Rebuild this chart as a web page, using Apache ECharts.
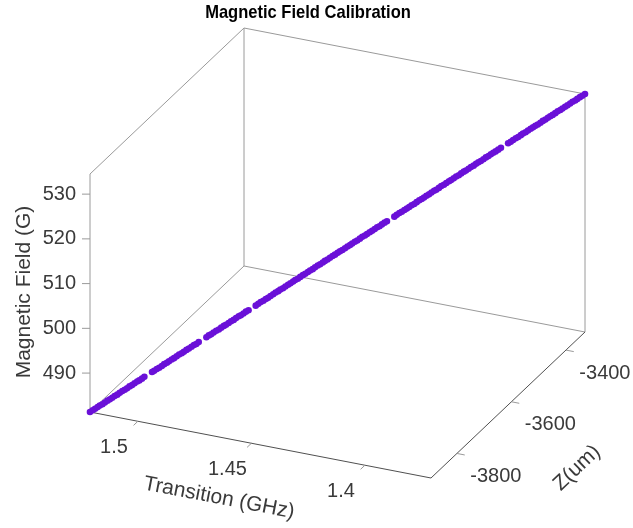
<!DOCTYPE html>
<html><head><meta charset="utf-8">
<script src="https://cdn.jsdelivr.net/npm/echarts@6/dist/echarts.min.js"></script>
<style>html,body{margin:0;padding:0;background:#fff}#c{width:633px;height:528px}</style>
</head><body><div id="c"></div>
<script>
// ---- data : sweep 1 ----
const transition = [1.5211,1.5196,1.5181,1.5166,1.5151,1.5136,1.5121,1.5106,1.5091,1.5076,1.5061,1.5046,
  1.5016,1.5001,1.4986,1.4971,1.4956,1.4941,1.4926,1.4911,1.4896,1.4881,
  1.4851,1.4836,1.4820,1.4805,1.4790,1.4775,1.4760,1.4745,1.4730,
  1.4700,1.4685,1.4670,1.4655,1.4640,1.4625,1.4610,1.4595,1.4580,1.4565,1.4550,1.4535,1.4520,1.4505,1.4490,1.4475,1.4460,1.4445,1.4430,1.4415,1.4400,1.4385,1.4370,1.4355,1.4340,1.4325,1.4310,
  1.4280,1.4265,1.4250,1.4235,1.4220,1.4205,1.4190,1.4175,1.4160,1.4145,1.4130,1.4115,1.4100,1.4085,1.4070,1.4055,1.4040,1.4025,1.4010,1.3995,1.3980,1.3964,
  1.3934,1.3919,1.3904,1.3889,1.3874,1.3859,1.3844,1.3829,1.3814,1.3799,1.3784,1.3769,1.3754,1.3739,1.3724,1.3709];
const zPos = [-3895,-3889,-3884,-3878,-3872,-3867,-3861,-3855,-3850,-3844,-3839,-3833,
  -3822,-3816,-3810,-3805,-3799,-3793,-3788,-3782,-3776,-3771,
  -3759,-3754,-3748,-3742,-3737,-3731,-3725,-3720,-3714,
  -3703,-3697,-3692,-3686,-3680,-3675,-3669,-3663,-3658,-3652,-3646,-3641,-3635,-3629,-3624,-3618,-3612,-3607,-3601,-3596,-3590,-3584,-3579,-3573,-3567,-3562,-3556,
  -3545,-3539,-3533,-3528,-3522,-3516,-3511,-3505,-3500,-3494,-3488,-3483,-3477,-3471,-3466,-3460,-3454,-3449,-3443,-3437,-3432,-3426,
  -3415,-3409,-3403,-3398,-3392,-3387,-3381,-3375,-3370,-3364,-3358,-3353,-3347,-3341,-3336,-3330];
const field = [481.3,481.8,482.4,482.9,483.4,484.0,484.5,485.0,485.6,486.1,486.6,487.2,
  488.2,488.7,489.3,489.8,490.3,490.9,491.4,491.9,492.5,493.0,
  494.1,494.6,495.1,495.7,496.2,496.7,497.3,497.8,498.3,
  499.4,499.9,500.4,501.0,501.5,502.0,502.6,503.1,503.6,504.2,504.7,505.2,505.8,506.3,506.8,507.4,507.9,508.4,509.0,509.5,510.0,510.6,511.1,511.6,512.2,512.7,513.2,
  514.3,514.8,515.3,515.9,516.4,516.9,517.5,518.0,518.5,519.1,519.6,520.1,520.7,521.2,521.7,522.3,522.8,523.3,523.9,524.4,524.9,525.5,
  526.5,527.1,527.6,528.1,528.7,529.2,529.7,530.2,530.8,531.3,531.8,532.4,532.9,533.4,534.0,534.5];

// ---- sweep 2 ----
const transition2 = [1.5203,1.5188,1.5173,1.5158,1.5143,1.5128,1.5113,1.5098,1.5083,1.5068,1.5053,
  1.5023,1.5008,1.4993,1.4978,1.4963,1.4948,1.4933,1.4918,1.4903,1.4888,
  1.4858,1.4843,1.4828,1.4813,1.4798,1.4783,1.4768,1.4753,1.4738,
  1.4708,1.4693,1.4678,1.4663,1.4648,1.4633,1.4618,1.4603,1.4588,1.4573,1.4558,1.4543,1.4528,1.4513,1.4498,1.4483,1.4468,1.4452,1.4437,1.4422,1.4407,1.4392,1.4377,1.4362,1.4347,1.4332,1.4317,
  1.4287,1.4272,1.4257,1.4242,1.4227,1.4212,1.4197,1.4182,1.4167,1.4152,1.4137,1.4122,1.4107,1.4092,1.4077,1.4062,1.4047,1.4032,1.4017,1.4002,1.3987,1.3972,
  1.3942,1.3927,1.3912,1.3897,1.3882,1.3867,1.3852,1.3837,1.3822,1.3807,1.3792,1.3777,1.3762,1.3747,1.3732,1.3717];
const zPos2 = [-3892,-3886,-3881,-3875,-3870,-3864,-3858,-3853,-3847,-3841,-3836,
  -3824,-3819,-3813,-3807,-3802,-3796,-3790,-3785,-3779,-3774,
  -3762,-3757,-3751,-3745,-3740,-3734,-3728,-3723,-3717,
  -3706,-3700,-3694,-3689,-3683,-3678,-3672,-3666,-3661,-3655,-3649,-3644,-3638,-3632,-3627,-3621,-3615,-3610,-3604,-3598,-3593,-3587,-3581,-3576,-3570,-3565,-3559,
  -3548,-3542,-3536,-3531,-3525,-3519,-3514,-3508,-3502,-3497,-3491,-3485,-3480,-3474,-3468,-3463,-3457,-3452,-3446,-3440,-3435,-3429,
  -3418,-3412,-3406,-3401,-3395,-3389,-3384,-3378,-3372,-3367,-3361,-3356,-3350,-3344,-3339,-3333];
const field2 = [481.6,482.1,482.6,483.2,483.7,484.2,484.8,485.3,485.8,486.4,486.9,
  488.0,488.5,489.0,489.5,490.1,490.6,491.1,491.7,492.2,492.7,
  493.8,494.3,494.9,495.4,495.9,496.5,497.0,497.5,498.1,
  499.1,499.7,500.2,500.7,501.3,501.8,502.3,502.8,503.4,503.9,504.4,505.0,505.5,506.0,506.6,507.1,507.6,508.2,508.7,509.2,509.8,510.3,510.8,511.4,511.9,512.4,513.0,
  514.0,514.6,515.1,515.6,516.1,516.7,517.2,517.7,518.3,518.8,519.3,519.9,520.4,520.9,521.5,522.0,522.5,523.1,523.6,524.1,524.7,525.2,
  526.3,526.8,527.3,527.9,528.4,528.9,529.4,530.0,530.5,531.0,531.6,532.1,532.6,533.2,533.7,534.2];

const tRange = [1.3709, 1.5211];   // Transition (GHz) axis limits
const zRange = [-3895, -3330];     // Z (um) axis limits
const bRange = [481.3, 534.5];     // Magnetic field (G) axis limits
const tTicks = [1.5, 1.45, 1.4];
const zTicks = [-3800, -3600, -3400];
const bTicks = [490, 500, 510, 520, 530];

const titleText = 'Magnetic Field Calibration';
const tName = 'Transition (GHz)';
const zName = 'Z(um)';
const bName = 'Magnetic Field (G)';

// ---- layout of the projected box (pixels) ----
const O  = [90, 412];    // corner (T max, Z min, B min)
const ET = [341, 66];    // T max -> T min
const EZ = [154, -146];  // Z min -> Z max
const EB = [0, -238];    // B min -> B max

const lm = (echarts.number && echarts.number.linearMap) ? echarts.number.linearMap
  : (v, d, r) => r[0] + (v - d[0]) / (d[1] - d[0]) * (r[1] - r[0]);

function proj(t, z, b) {
  const a = lm(t, [tRange[1], tRange[0]], [0, 1]);
  const c = lm(z, zRange, [0, 1]);
  const d = lm(b, bRange, [0, 1]);
  return [O[0] + a * ET[0] + c * EZ[0] + d * EB[0],
          O[1] + a * ET[1] + c * EZ[1] + d * EB[1]];
}

const Tmin = tRange[0], Tmax = tRange[1], Zmin = zRange[0], Zmax = zRange[1], Bmin = bRange[0], Bmax = bRange[1];
const FONT = 'Liberation Sans, Arial, Helvetica, sans-serif';
const TXT = '#3a3a3a';

function seg(p, q, color) {
  return { type: 'line', silent: true, shape: { x1: p[0], y1: p[1], x2: q[0], y2: q[1] },
           style: { stroke: color, lineWidth: 1 } };
}
function label(x, y, text, size, align, vAlign, rot, extra) {
  return Object.assign({ type: 'text', x: x, y: y, rotation: rot || 0, silent: true,
    style: { text: text, fill: TXT, fontSize: size, fontFamily: FONT,
             align: align, textAlign: align, verticalAlign: vAlign, textVerticalAlign: vAlign } }, extra || {});
}

const BACK = '#9a9a9a', FRONT = '#505050';
const g = [];
// back box edges
g.push(seg(proj(Tmax, Zmin, Bmin), proj(Tmax, Zmin, Bmax), BACK));
g.push(seg(proj(Tmax, Zmax, Bmin), proj(Tmax, Zmax, Bmax), BACK));
g.push(seg(proj(Tmin, Zmax, Bmin), proj(Tmin, Zmax, Bmax), BACK));
g.push(seg(proj(Tmax, Zmin, Bmax), proj(Tmax, Zmax, Bmax), BACK));
g.push(seg(proj(Tmax, Zmax, Bmax), proj(Tmin, Zmax, Bmax), BACK));
g.push(seg(proj(Tmax, Zmin, Bmin), proj(Tmax, Zmax, Bmin), BACK));
g.push(seg(proj(Tmax, Zmax, Bmin), proj(Tmin, Zmax, Bmin), BACK));
// front axes
g.push(seg(proj(Tmax, Zmin, Bmin), proj(Tmin, Zmin, Bmin), FRONT));
g.push(seg(proj(Tmin, Zmin, Bmin), proj(Tmin, Zmax, Bmin), FRONT));

const lenZ = Math.hypot(EZ[0], EZ[1]), lenT = Math.hypot(ET[0], ET[1]);
// T ticks + labels
tTicks.forEach(t => {
  const p = proj(t, Zmin, Bmin);
  g.push(seg(p, [p[0] - EZ[0] / lenZ * 6, p[1] - EZ[1] / lenZ * 6], BACK));
  g.push(label(p[0] - 24, p[1] + 26, String(t), 20, 'center', 'middle'));
});
// Z ticks + labels
zTicks.forEach(z => {
  const p = proj(Tmin, z, Bmin);
  g.push(seg(p, [p[0] + ET[0] / lenT * 8, p[1] + ET[1] / lenT * 8], BACK));
  g.push(label(p[0] + 39, p[1] + 23, String(z), 20, 'center', 'middle'));
});
// B ticks + labels
bTicks.forEach(b => {
  const p = proj(Tmax, Zmin, b);
  g.push(seg(p, [p[0] - 8, p[1]], BACK));
  g.push(label(p[0] - 14, p[1], String(b), 20, 'right', 'middle'));
});
// axis names
g.push(label(24, 292, bName, 21, 'center', 'middle', Math.PI / 2));
g.push(label(219, 498, tName, 21, 'center', 'middle', -Math.atan2(ET[1], ET[0])));
g.push(label(577, 468, zName, 21, 'center', 'middle', Math.atan2(-EZ[1], EZ[0])));
// title
g.push({ type: 'text', x: 308, y: 13, scaleX: 0.87, silent: true,
  style: { text: titleText, fill: '#000', fontSize: 19, fontWeight: 'bold', fontFamily: FONT,
           align: 'center', textAlign: 'center', verticalAlign: 'middle', textVerticalAlign: 'middle' } });

function renderDot(params, api) {
  const p = proj(api.value(0), api.value(1), api.value(2));
  return { type: 'circle', shape: { cx: p[0], cy: p[1], r: 3.3 },
           style: { fill: '#6a10d8' } };
}

const chart = echarts.init(document.getElementById('c'), null, { renderer: 'canvas', width: 633, height: 528 });
chart.setOption({
  animation: false,
  backgroundColor: '#fff',
  graphic: { elements: g },
  series: [{
    type: 'custom', name: 'Sweep 1', coordinateSystem: 'none', silent: true, z: 10,
    data: transition.map((t, i) => [t, zPos[i], field[i]]),
    renderItem: renderDot
  }, {
    type: 'custom', name: 'Sweep 2', coordinateSystem: 'none', silent: true, z: 10,
    data: transition2.map((t, i) => [t, zPos2[i], field2[i]]),
    renderItem: renderDot
  }]
});
</script></body></html>
